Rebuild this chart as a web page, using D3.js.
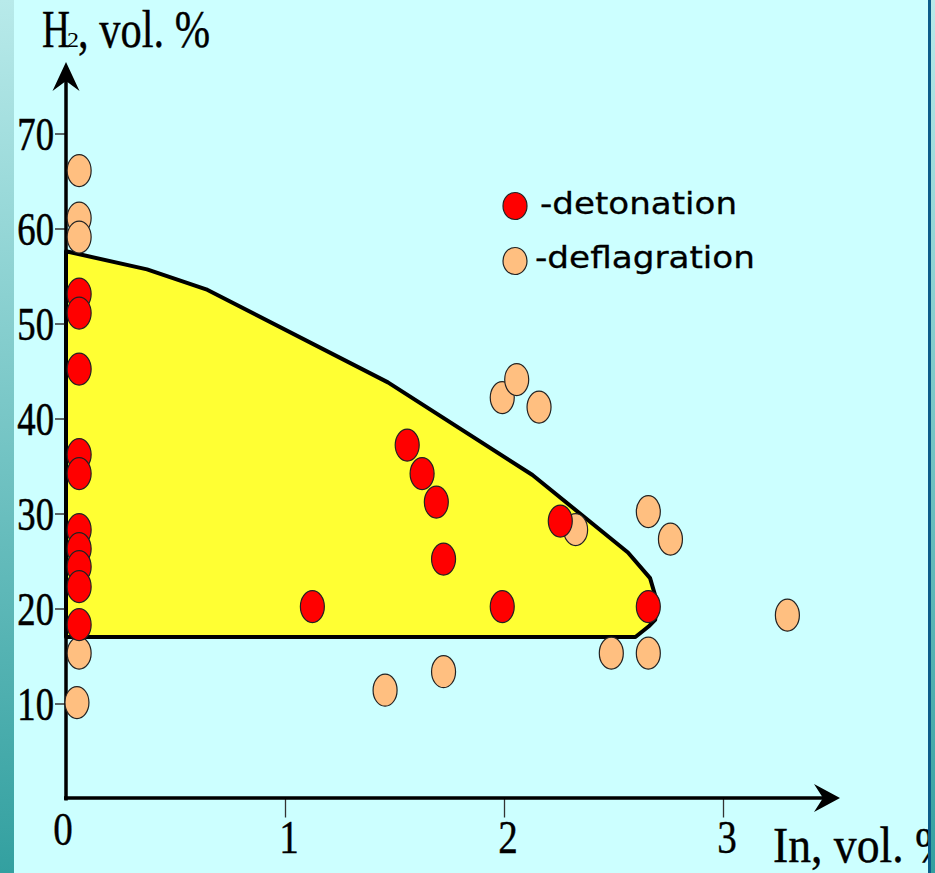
<!DOCTYPE html>
<html><head><meta charset="utf-8">
<script src="https://cdn.jsdelivr.net/npm/d3@7"></script>
<style>body{margin:0;background:#ccffff;overflow:hidden}</style>
</head><body><svg id="c" width="935" height="873"></svg>
<script>
// ---- data ----
const xTicks = [0, 1, 2, 3];
const yTicks = [10, 20, 30, 40, 50, 60, 70];

const detonationX = [0.06, 0.06, 0.06, 0.06, 0.06, 0.06, 0.06, 0.06, 0.06, 0.06, 1.558, 1.626, 1.691, 1.724, 1.125, 2.257, 1.992, 2.659];
const detonationY = [53.1, 51.1, 45.2, 36.2, 34.2, 28.3, 26.3, 24.4, 22.3, 18.3, 37.2, 34.2, 31.2, 25.2, 20.2, 29.2, 20.2, 20.2];

const deflagrationX = [0.06, 0.06, 0.06, 0.06, 0.05, 1.457, 1.724, 1.992, 2.058, 2.16, 2.327, 2.659, 2.76, 2.49, 2.659, 3.294];
const deflagrationY = [66.1, 61.1, 59.1, 15.3, 10.1, 11.4, 13.35, 42.2, 44.1, 41.2, 28.3, 30.2, 27.3, 15.3, 15.3, 19.3];

const regionX = [0, 0.37, 0.64, 1.47, 2.13, 2.566, 2.667, 2.70, 2.69, 2.66, 2.60, 0];
const regionY = [57.6, 55.7, 53.6, 43.8, 34.05, 25.9, 23.2, 20.6, 18.8, 18.1, 17.0, 17.0];

const legendLabels = ["-detonation", "-deflagration"];
const yTitle = ["H", "2", ", vol. %"];
const xTitle = "In, vol. %";

// ---- drawing ----
const svg = d3.select("#c");
const W = 935, H = 873;
const x = d3.scaleLinear().domain([0, 3]).range([66, 723]);
const y = d3.scaleLinear().domain([0, 70]).range([798.5, 133.5]);
const red = "#ff0000", orange = "#ffbf80";

svg.append("rect").attr("width", W).attr("height", H).attr("fill", "#ccffff");

// region
const line = d3.line().x(d => x(d[0])).y(d => y(d[1]));
const region = regionX.map((v, i) => [v, regionY[i]]);
svg.append("path").attr("d", line(region) + "Z")
  .attr("fill", "#ffff33").attr("stroke", "#000").attr("stroke-width", 4).attr("stroke-linejoin", "round");

// axis ticks via d3 axes
const ay = svg.append("g").attr("transform", `translate(${x(0)},0)`)
  .call(d3.axisLeft(y).tickValues(yTicks).tickSize(11).tickFormat(""));
ay.select(".domain").remove();
ay.selectAll(".tick line").attr("stroke", "#333").attr("stroke-width", 1.5);

const ax = svg.append("g").attr("transform", `translate(0,${y(0)})`)
  .call(d3.axisBottom(x).tickValues(xTicks.filter(d => d > 0)).tickSize(19).tickFormat(""));
ax.select(".domain").remove();
ax.selectAll(".tick line").attr("stroke", "#333").attr("stroke-width", 1.3);

// axis lines with arrows
const x0 = x(0), y0 = y(0);
svg.append("line").attr("x1", x0).attr("y1", y0 + 2).attr("x2", x0).attr("y2", 80)
  .attr("stroke", "#000").attr("stroke-width", 3.5);
svg.append("path").attr("d", `M${x0},62 L${x0 + 13.5},91 L${x0},81 L${x0 - 13.5},91 Z`).attr("fill", "#000");
svg.append("line").attr("x1", x0 - 2).attr("y1", y0 - 0.5).attr("x2", 828).attr("y2", y0 - 0.5)
  .attr("stroke", "#000").attr("stroke-width", 3.5);
svg.append("path").attr("d", `M840,${y0 - 0.5} L814,${y0 - 14.5} L823,${y0 - 0.5} L814,${y0 + 13.5} Z`).attr("fill", "#000");

// tick labels
const serif = "'Liberation Serif','Times New Roman',serif";
yTicks.forEach(v => {
  svg.append("g").attr("transform", `translate(54,${y(v) + 16}) scale(0.78,1)`)
    .append("text").attr("text-anchor", "end").attr("font-family", serif).attr("font-size", 47)
    .attr("fill", "#000").attr("stroke", "#000").attr("stroke-width", 0.6).text(v);
});
xTicks.forEach(v => {
  const dx = v === 0 ? -3 : 4, dy = v === 0 ? 46 : 54;
  svg.append("g").attr("transform", `translate(${x(v) + dx},${y0 + dy}) scale(0.85,1)`)
    .append("text").attr("text-anchor", "middle").attr("font-family", serif).attr("font-size", 46)
    .attr("fill", "#000").attr("stroke", "#000").attr("stroke-width", 0.4).text(v);
});

// axis titles
svg.append("text").attr("x", 42).attr("y", 47).attr("font-family", serif).attr("font-size", 52)
  .attr("stroke", "#000").attr("stroke-width", 0.4)
  .attr("textLength", 28).attr("lengthAdjust", "spacingAndGlyphs").text(yTitle[0]);
svg.append("text").attr("x", 67).attr("y", 47).attr("font-family", serif).attr("font-size", 22)
  .attr("textLength", 12).attr("lengthAdjust", "spacingAndGlyphs").text(yTitle[1]);
svg.append("text").attr("x", 78).attr("y", 47).attr("font-family", serif).attr("font-size", 52)
  .attr("stroke", "#000").attr("stroke-width", 0.4)
  .attr("textLength", 132).attr("lengthAdjust", "spacingAndGlyphs").text(yTitle[2]);
svg.append("text").attr("x", 773).attr("y", 862).attr("font-family", serif).attr("font-size", 50)
  .attr("stroke", "#000").attr("stroke-width", 0.4)
  .attr("textLength", 180).attr("lengthAdjust", "spacingAndGlyphs").text(xTitle);

// points
function dots(xs, ys, color) {
  svg.append("g").selectAll("ellipse").data(xs.map((v, i) => [v, ys[i]])).join("ellipse")
    .attr("cx", d => x(d[0])).attr("cy", d => y(d[1])).attr("rx", 12).attr("ry", 16)
    .attr("fill", color).attr("stroke", "#222").attr("stroke-width", 1.2);
}
dots(deflagrationX, deflagrationY, orange);
dots(detonationX, detonationY, red);

// legend
const sans = "'DejaVu Sans',Verdana,sans-serif";
const legColors = [red, orange];
const legendLen = [197, 220];
const lg = svg.append("g");
legendLabels.forEach((t, i) => {
  const cy = 206 + i * 55;
  lg.append("ellipse").attr("cx", 515).attr("cy", cy).attr("rx", 12).attr("ry", 13.5)
    .attr("fill", legColors[i]).attr("stroke", "#222").attr("stroke-width", 1.2);
  lg.append("text").attr("x", i === 0 ? 540 : 535).attr("y", cy + 8 + (i === 0 ? 0 : -1))
    .attr("font-family", sans).attr("font-size", 31)
    .attr("stroke", "#000").attr("stroke-width", 0.3)
    .attr("textLength", legendLen[i]).attr("lengthAdjust", "spacingAndGlyphs").attr("fill", "#000").text(t);
});

// frame strips
const defs = svg.append("defs");
const g1 = defs.append("linearGradient").attr("id", "lg").attr("x1", 0).attr("y1", 0).attr("x2", 0).attr("y2", 1);
g1.append("stop").attr("offset", 0).attr("stop-color", "#b8eaea");
g1.append("stop").attr("offset", 1).attr("stop-color", "#33a0a0");
svg.append("rect").attr("x", 0).attr("y", 0).attr("width", 14).attr("height", H).attr("fill", "url(#lg)");
svg.append("rect").attr("x", 928).attr("y", 0).attr("width", 3).attr("height", H).attr("fill", "#0b5c8a");
svg.append("rect").attr("x", 931).attr("y", 0).attr("width", 4).attr("height", H).attr("fill", "url(#lg)");
</script>
</body></html>
